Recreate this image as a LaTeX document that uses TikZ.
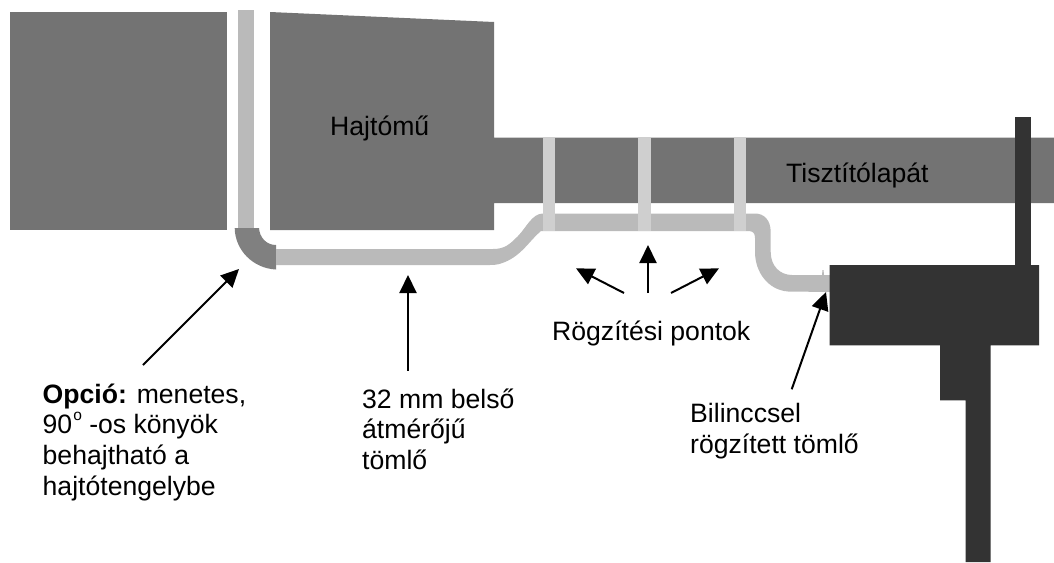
\documentclass[tikz,border=0pt]{standalone}
\usepackage{fontspec}
\setmainfont{Liberation Sans}
\usetikzlibrary{arrows.meta}
\definecolor{body}{HTML}{737373}
\definecolor{elbow}{HTML}{808080}
\definecolor{hose}{HTML}{BABABA}
\definecolor{clamp}{HTML}{CFCFCF}
\definecolor{dark}{HTML}{333333}
\tikzset{
  lbl/.style={inner sep=0pt,align=left,font=\fontsize{26.6}{30.6}\selectfont,text=black},
  pointer/.style={line width=2pt,-{Triangle[length=18pt,width=17pt]}},
}
\begin{document}
\begin{tikzpicture}[x=1pt,y=-1pt]
\useasboundingbox (0,0) rectangle (1054,562);
\fill[body] (10,12) rectangle (226.5,230);
\fill[body] (270,12) -- (494,22) -- (494,137.5) -- (1054,137.5) -- (1054,203) -- (494,203) -- (494,230) -- (270,230) -- cycle;
\fill[hose] (238,10) rectangle (254,229);
\fill[elbow] (234.7,228) -- (259,228) .. controls (259.5,237) and (266,245) .. (276,245) -- (276,269.5) .. controls (253,268.5) and (235,250) .. (234.7,228) -- cycle;
\fill[hose] (276,249) -- (493,249) .. controls (505,249) and (510,244) .. (518,236) .. controls (526,228) and (532,213.5) .. (543,213.5) -- (755,213.5)
  .. controls (764,213.5) and (770.7,220) .. (770.7,232) -- (770.7,252) .. controls (770.7,266) and (780,275) .. (792,275) -- (822,275) -- (822.5,270) -- (823.5,270) -- (824,275) -- (830,275) -- (830,292) -- (788,291.5)
  .. controls (768,290) and (755,272) .. (755,252) -- (755,238) .. controls (755,233) and (753,231) .. (748,231) -- (541,231) .. controls (530,240) and (522,255) .. (505,262) .. controls (500,264) and (497,265) .. (490,265) -- (276,265) -- cycle;
\fill[clamp] (543,137.5) rectangle (555,230.5);
\fill[clamp] (638,137.5) rectangle (650.5,230.5);
\fill[clamp] (734,137.5) rectangle (745.5,230.5);
\fill[dark] (1015,117) rectangle (1031,266);
\fill[dark] (829.5,265) -- (1039,265) -- (1039,345.3) -- (990.7,345.3) -- (990.7,562) -- (965.7,562) -- (965.7,400.3) -- (940,400.3) -- (940,345.3) -- (829.5,345.3) -- cycle;
\node[lbl,anchor=base west] (hajto) at (330,135) {Hajtómű};
\node[lbl,anchor=base west] (blade) at (786,182.7) {Tisztítólapát};
\node[lbl,anchor=base west] (opcio) at (42.5,403.3) {\textbf{Opció:} menetes,};
\node[lbl,anchor=base west] (opcio2) at (42.5,433.9) {90\kern1pt\raisebox{13pt}{\fontsize{15.5}{15.5}\selectfont o} -os könyök};
\node[lbl,anchor=base west] (opcio3) at (42.5,464.5) {behajtható a};
\node[lbl,anchor=base west] (opcio4) at (42.5,495.1) {hajtótengelybe};
\node[lbl,anchor=base west] (hose) at (362,408) {32 mm belső};
\node[lbl,anchor=base west] (hose2) at (362,438.6) {átmérőjű};
\node[lbl,anchor=base west] (hose3) at (362,469.2) {tömlő};
\node[lbl,anchor=base west] (fix) at (552,340) {Rögzítési pontok};
\node[lbl,anchor=base west] (clampl) at (690,422.7) {Bilinccsel};
\node[lbl,anchor=base west] (clampl2) at (690,453.3) {rögzített tömlő};
\coordinate (a1s) at (143,365); \coordinate (a1e) at (239,269);
\coordinate (a2s) at (408,370.7); \coordinate (a2e) at (408,275);
\coordinate (a3s) at (624,293); \coordinate (a3e) at (576,268.3);
\coordinate (a4s) at (648,293); \coordinate (a4e) at (648,245);
\coordinate (a5s) at (671,293); \coordinate (a5e) at (719,268.3);
\coordinate (a6s) at (791.7,389.3); \coordinate (a6e) at (826,292);
\draw[pointer] (a1s) -- (a1e);
\draw[pointer] (a2s) -- (a2e);
\draw[pointer] (a3s) -- (a3e);
\draw[pointer] (a4s) -- (a4e);
\draw[pointer] (a5s) -- (a5e);
\draw[pointer] (a6s) -- (a6e);
\end{tikzpicture}
\end{document}
